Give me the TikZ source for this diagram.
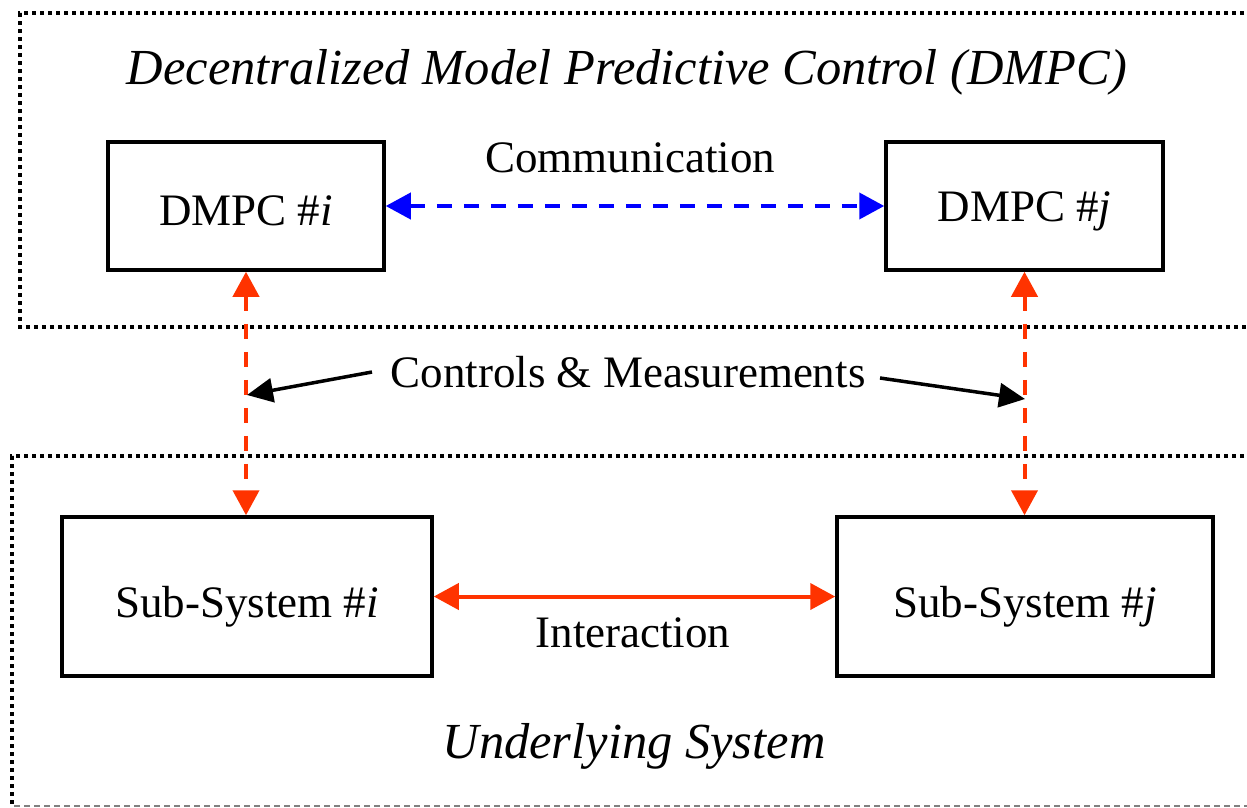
\documentclass[tikz,border=0pt]{standalone}
\usepackage{fontspec}
\setmainfont{Liberation Serif}
\usetikzlibrary{arrows.meta}
\definecolor{myred}{HTML}{FF3300}
\definecolor{myblue}{HTML}{0000FF}
\newcommand{\lowertxt}[2]{\raisebox{-#1}[\height][\depth]{#2}}
\begin{document}
\begin{tikzpicture}[x=1pt,y=-1pt,
  blk/.style={draw,line width=3.5pt,inner sep=0pt,font=\fontsize{45}{54}\selectfont},
  lbl/.style={anchor=base,inner sep=0pt,font=\fontsize{45}{54}\selectfont},
  ttl/.style={anchor=base,inner sep=0pt,font=\fontsize{50.5}{60}\selectfont\itshape},
  dotbox/.style={line width=4pt,dash pattern=on 4pt off 4pt},
  redarr/.style={myred,line width=4pt,{Triangle[length=25pt,width=26pt]}-{Triangle[length=25pt,width=26pt]}},
  bluearr/.style={myblue,line width=4pt,{Triangle[length=25pt,width=26pt]}-{Triangle[length=25pt,width=26pt]}},
  blkarr/.style={black,line width=3.5pt,-{Triangle[length=26pt,width=24pt]}}
]
\useasboundingbox (0,0) rectangle (1247,807);
% outer dotted frames
\draw[dotbox] (1260,13) -- (20,13) -- (20,327) -- (1260,327);
\draw[dotbox] (1260,456) -- (12,456) -- (12,806);
\draw[gray,line width=1.5pt,dash pattern=on 6pt off 4pt] (14,806) -- (1260,806);
% titles
\node[ttl] (title) at (627,84) {Decentralized Model Predictive Control (DMPC)};
\node[ttl] (under) at (634,758) {Underlying System};
% blocks
\node[blk,minimum width=276pt,minimum height=128pt] (di) at (246,206) {\lowertxt{5pt}{DMPC \#\textit{i}}};
\node[blk,minimum width=277pt,minimum height=128pt] (dj) at (1024.5,206) {\lowertxt{5pt}{DMPC \#\textit{j}}};
\node[blk,minimum width=370pt,minimum height=159pt] (si) at (247,596.5) {\lowertxt{10pt}{Sub-System \#\textit{i}}};
\node[blk,minimum width=376pt,minimum height=159pt] (sj) at (1025,596.5) {\lowertxt{10pt}{Sub-System \#\textit{j}}};
% labels
\node[lbl] (comm) at (630,172) {Communication};
\node[lbl] (cm) at (628,387) {Controls \& Measurements};
\node[lbl] (inter) at (633,647) {Interaction};
% connectors
\draw[bluearr,dash pattern=on 15pt off 12pt] (di.east) -- (dj.east -| dj.west);
\draw[redarr,dash pattern=on 15pt off 13pt] (di.south) -- (si.north -| di.south);
\draw[redarr,dash pattern=on 15pt off 13pt] (dj.south) -- (sj.north -| dj.south);
\draw[redarr] (si.east) -- (sj.west);
\coordinate (li) at (247,395);
\coordinate (lj) at (1025,399);
\draw[blkarr] (372,372) -- (li);
\draw[blkarr] (880,378) -- (lj);
\end{tikzpicture}
\end{document}
